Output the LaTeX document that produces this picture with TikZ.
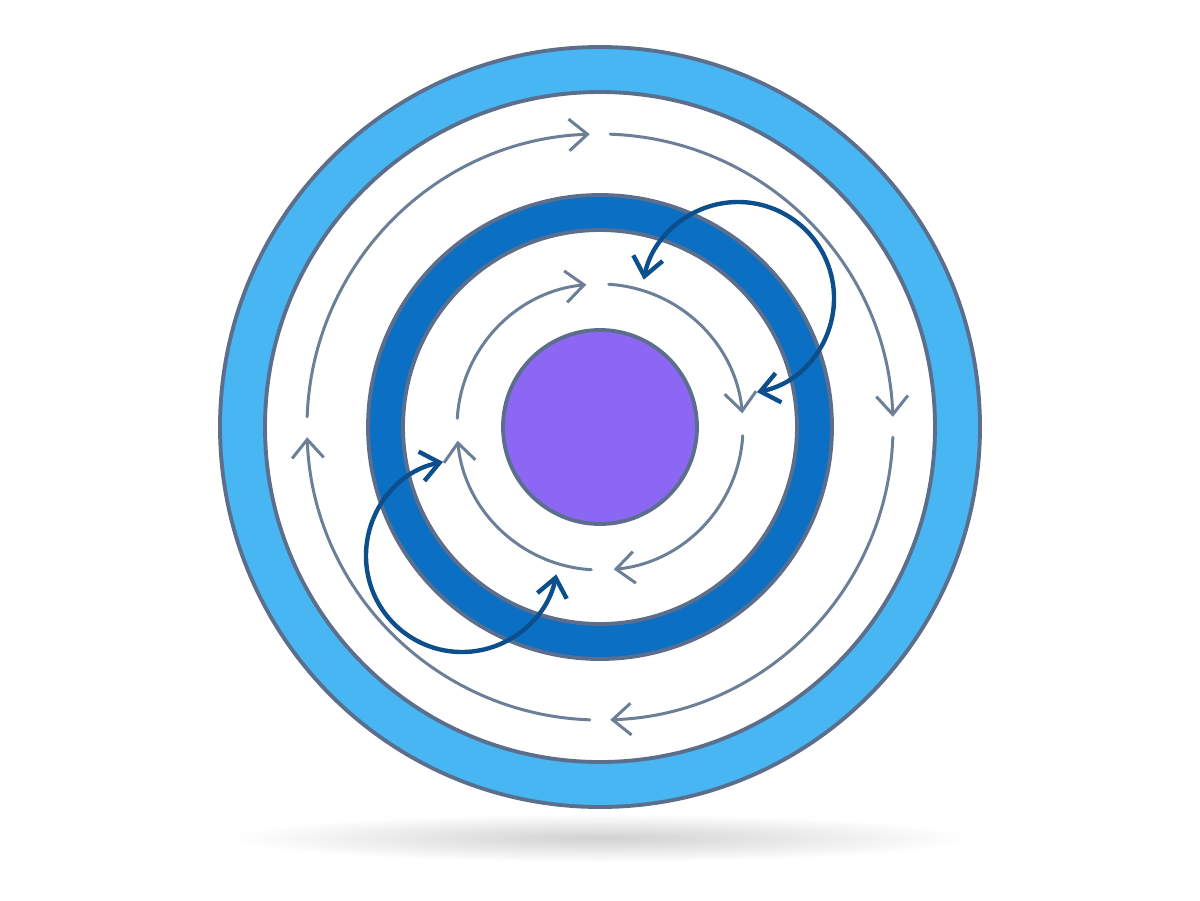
\documentclass[tikz,border=0pt]{standalone}
\usetikzlibrary{arrows.meta,calc}
\definecolor{ringlight}{HTML}{47B6F2}
\definecolor{ringdark}{HTML}{0B6FC4}
\definecolor{rimline}{HTML}{5B6E8C}
\definecolor{coreviolet}{HTML}{8C67F3}
\definecolor{flowgrey}{HTML}{6B7F98}
\definecolor{swapblue}{HTML}{0D4F8D}
\tikzset{
  rim/.style={draw=rimline,line width=2.2pt},
  flow/.style={draw=flowgrey,line width=1.7pt,line cap=round,
    -{Straight Barb[length=10.5pt,width=18pt,line width=1.7pt]}},
  swap/.style={draw=swapblue,line width=2.5pt,line cap=round,
    {Straight Barb[length=10.5pt,width=17pt,line width=2.5pt]}-{Straight Barb[length=10.5pt,width=17pt,line width=2.5pt]}},
}
\begin{document}
\begin{tikzpicture}[x=0.02cm,y=-0.02cm]
\useasboundingbox (0,0) rectangle (1200,900);
\coordinate (c) at (600,427);
\coordinate (sw1) at (738,298);
\coordinate (sw2) at (462,556);
% shadow
\shade[inner color=black!18,outer color=white] (600,838) ellipse[x radius=370,y radius=24];
% outer ring
\fill[ringlight] (c) circle[radius=380];
\draw[rim,fill=white] (c) circle[radius=335];
\draw[rim] (c) circle[radius=380];
% middle ring
\draw[rim,fill=ringdark] (c) circle[radius=232];
\draw[rim,fill=white] (c) circle[radius=197];
% core
\draw[rim,fill=coreviolet] (c) circle[radius=97];
% outer flow arcs
\foreach \b in {180,90,0,-90}{
  \draw[flow] ($(c)+({2-\b}:293)$) arc[start angle={2-\b},end angle={88-\b},radius=293];
}
% inner flow arcs
\foreach \b in {180,90,0,-90}{
  \draw[flow] ($(c)+({3.5-\b}:143)$) arc[start angle={3.5-\b},end angle={84.5-\b},radius=143];
}
% exchange arrows
\draw[swap] ($(sw1)+(78.6:96)$) arc[start angle=78.6,end angle=-169,radius=96];
\draw[swap] ($(sw2)+(258.6:96)$) arc[start angle=258.6,end angle=11,radius=96];
\end{tikzpicture}
\end{document}
